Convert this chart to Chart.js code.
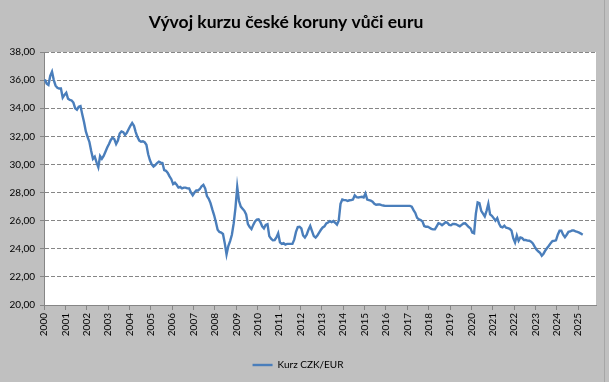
<!DOCTYPE html>
<html>
<head>
<meta charset="utf-8">
<script src="https://cdn.jsdelivr.net/npm/chart.js@4.4.1/dist/chart.umd.min.js"></script>
<style>
html, body { margin: 0; padding: 0; background: #c0c0c0; }
#wrap { position: relative; width: 609px; height: 382px; }
#edge { position: absolute; left: 604px; top: 0; width: 1px; height: 382px; background: #a6a6a6; }
</style>
</head>
<body>
<div id="wrap"><canvas id="kurz" width="609" height="382"></canvas><div id="edge"></div></div>
<script>
"use strict";
const chartTitle = "Vývoj kurzu české koruny vůči euru";
const seriesName = "Kurz CZK/EUR";
const startYear = 2000;
const years = [2000, 2001, 2002, 2003, 2004, 2005, 2006, 2007, 2008, 2009, 2010, 2011, 2012,
	2013, 2014, 2015, 2016, 2017, 2018, 2019, 2020, 2021, 2022, 2023, 2024, 2025];
const yTicks = [20, 22, 24, 26, 28, 30, 32, 34, 36, 38];

// monthly values, one row per year (jan..dec)
const kurz = [
	36.05, 35.75, 35.66, 36.3, 36.6, 36.0, 35.6, 35.45, 35.4, 35.4, 34.75, 34.95,
	35.1, 34.67, 34.6, 34.55, 34.4, 34.0, 33.9, 34.1, 34.15, 33.55, 33.0, 32.35,
	31.95, 31.6, 30.95, 30.4, 30.55, 30.15, 29.8, 30.6, 30.4, 30.6, 30.9, 31.2,
	31.45, 31.74, 31.9, 31.8, 31.45, 31.7, 32.2, 32.35, 32.3, 32.1, 32.25, 32.5,
	32.75, 32.95, 32.75, 32.3, 31.95, 31.7, 31.62, 31.65, 31.58, 31.4, 30.72, 30.3,
	30.0, 29.85, 29.95, 30.1, 30.2, 30.13, 30.1, 29.6, 29.55, 29.4, 29.15, 28.95,
	28.6, 28.7, 28.55, 28.35, 28.4, 28.3, 28.35, 28.35, 28.3, 28.3, 28.0, 27.8,
	28.0, 28.15, 28.15, 28.25, 28.45, 28.55, 28.3, 27.75, 27.55, 27.25, 26.8, 26.4,
	25.9, 25.35, 25.2, 25.15, 25.05, 24.4, 23.6, 24.2, 24.55, 25.0, 25.8, 26.9,
	28.4, 27.4, 27.0, 26.85, 26.7, 26.45, 25.75, 25.55, 25.4, 25.7, 25.95, 26.07,
	26.1, 25.9, 25.6, 25.45, 25.7, 25.75, 24.9, 24.72, 24.6, 24.62, 24.8, 25.1,
	24.45, 24.35, 24.4, 24.3, 24.35, 24.35, 24.35, 24.35, 24.65, 25.2, 25.55, 25.57,
	25.45, 24.95, 24.8, 25.0, 25.35, 25.62, 25.25, 24.9, 24.8, 24.95, 25.15, 25.35,
	25.52, 25.6, 25.8, 25.87, 25.97, 25.9, 25.97, 25.85, 25.72, 26.0, 27.2, 27.5,
	27.46, 27.46, 27.4, 27.45, 27.47, 27.5, 27.8, 27.68, 27.65, 27.68, 27.7, 27.65,
	27.93, 27.5, 27.46, 27.42, 27.35, 27.2, 27.13, 27.15, 27.15, 27.1, 27.08, 27.05,
	27.05, 27.05, 27.05, 27.05, 27.05, 27.05, 27.05, 27.05, 27.05, 27.05, 27.05, 27.05,
	27.05, 27.05, 27.0, 26.75, 26.55, 26.2, 26.1, 26.05, 25.95, 25.62, 25.57, 25.57,
	25.5, 25.42, 25.38, 25.38, 25.6, 25.82, 25.78, 25.68, 25.78, 25.9, 25.85, 25.7,
	25.68, 25.76, 25.76, 25.74, 25.66, 25.6, 25.7, 25.8, 25.82, 25.68, 25.55, 25.45,
	25.15, 25.1, 26.5, 27.3, 27.25, 26.7, 26.5, 26.3, 26.7, 27.2, 26.45, 26.35,
	26.18, 26.0, 26.18, 25.8, 25.57, 25.52, 25.64, 25.5, 25.47, 25.42, 25.3, 24.75,
	24.45, 24.95, 24.57, 24.8, 24.76, 24.62, 24.62, 24.58, 24.57, 24.5, 24.38, 24.15,
	23.95, 23.82, 23.72, 23.51, 23.65, 23.88, 24.05, 24.22, 24.4, 24.55, 24.57, 24.6,
	25.0, 25.28, 25.28, 25.0, 24.82, 25.0, 25.2, 25.23, 25.3, 25.3, 25.23, 25.2,
	25.15, 25.08, 25.0
];

const points = kurz.map((v, i) => ({x: startYear + (i + 0.5) / 12, y: v}));

const axisGray = "#868686";
const tickFont = {family: "Lato", size: 10};

const plotBg = {
	id: "plotBg",
	afterLayout(chart) {
		// excel keeps the title a little left of the middle
		chart.titleBlock.right -= 24;
	},
	beforeDraw(chart) {
		const {ctx, chartArea: a} = chart;
		ctx.save();
		ctx.fillStyle = "#c0c0c0";
		ctx.fillRect(0, 0, chart.width, chart.height);
		ctx.fillStyle = "#ffffff";
		ctx.fillRect(a.left, a.top, a.right - a.left, a.bottom - a.top);
		ctx.restore();
	}
};

new Chart(document.getElementById("kurz"), {
	type: "line",
	data: {
		datasets: [{
			label: seriesName,
			data: points,
			borderColor: "#4a7ebb",
			backgroundColor: "#4a7ebb",
			borderWidth: 2.4,
			pointRadius: 0,
			tension: 0,
			fill: false
		}]
	},
	options: {
		responsive: false,
		animation: false,
		devicePixelRatio: 1,
		layout: {padding: {left: 0, right: 13, top: 0, bottom: 2}},
		scales: {
			x: {
				type: "linear",
				min: startYear,
				max: 2025.83,
				afterBuildTicks: (s) => { s.ticks = years.map(v => ({value: v})); },
				afterFit: (s) => { s.height = 45; },
				ticks: {
					autoSkip: false,
					maxRotation: 90,
					minRotation: 90,
					padding: 3,
					color: "#000",
					font: tickFont,
					callback: (v) => String(v)
				},
				grid: {drawOnChartArea: false, drawTicks: true, tickLength: 5, tickColor: axisGray},
				border: {color: axisGray, width: 1}
			},
			y: {
				type: "linear",
				min: 20,
				max: 38,
				afterBuildTicks: (s) => { s.ticks = yTicks.map(v => ({value: v})); },
				afterFit: (s) => { s.width = 44; },
				ticks: {
					padding: 5,
					color: "#000",
					font: tickFont,
					callback: (v) => v.toFixed(2).replace(".", ",")
				},
				grid: {color: axisGray, lineWidth: 1, tickLength: 4, tickColor: axisGray, tickBorderDash: []},
				border: {color: axisGray, width: 1, dash: [4, 2]}
			}
		},
		plugins: {
			title: {
				display: true,
				text: chartTitle,
				color: "#000",
				font: {family: "Lato", size: 17.5, weight: "bold"},
				padding: {top: 12, bottom: 19}
			},
			legend: {
				position: "bottom",
				labels: {
					usePointStyle: true,
					pointStyle: "line",
					pointStyleWidth: 20,
					boxHeight: 10,
					padding: 10,
					color: "#000",
					font: tickFont
				}
			},
			tooltip: {enabled: false}
		}
	},
	plugins: [plotBg]
});
</script>
</body>
</html>
